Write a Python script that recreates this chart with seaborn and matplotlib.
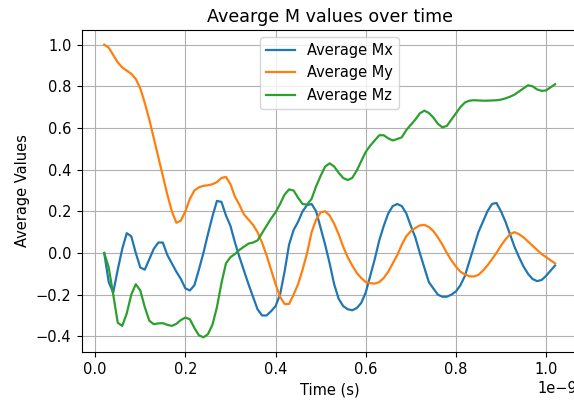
import matplotlib
matplotlib.use("Agg")
import matplotlib.pyplot as plt
import seaborn as sns
import pandas as pd
import numpy as np

# time in units of 1e-9 s
time_ns = [0.02, 0.03, 0.04, 0.05, 0.06, 0.07, 0.08, 0.09, 0.10, 0.11,
           0.12, 0.13, 0.14, 0.15, 0.16, 0.17, 0.18, 0.19, 0.20, 0.21,
           0.22, 0.23, 0.24, 0.25, 0.26, 0.27, 0.28, 0.29, 0.30, 0.31,
           0.32, 0.33, 0.34, 0.35, 0.36, 0.37, 0.38, 0.39, 0.40, 0.41,
           0.42, 0.43, 0.44, 0.45, 0.46, 0.47, 0.48, 0.49, 0.50, 0.51,
           0.52, 0.53, 0.54, 0.55, 0.56, 0.57, 0.58, 0.59, 0.60, 0.61,
           0.62, 0.63, 0.64, 0.65, 0.66, 0.67, 0.68, 0.69, 0.70, 0.71,
           0.72, 0.73, 0.74, 0.75, 0.76, 0.77, 0.78, 0.79, 0.80, 0.81,
           0.82, 0.83, 0.84, 0.85, 0.86, 0.87, 0.88, 0.89, 0.90, 0.91,
           0.92, 0.93, 0.94, 0.95, 0.96, 0.97, 0.98, 0.99, 1.00, 1.01,
           1.02]

mx = [0.0, -0.14, -0.19, -0.08, 0.02, 0.095, 0.08, 0.0, -0.07, -0.08,
      -0.03, 0.02, 0.05, 0.05, -0.01, -0.05, -0.09, -0.125, -0.17, -0.18,
      -0.155, -0.08, 0.0, 0.09, 0.175, 0.25, 0.245, 0.18, 0.13, 0.05,
      -0.02, -0.085, -0.15, -0.21, -0.27, -0.30, -0.30, -0.28, -0.255, -0.2,
      -0.09, 0.04, 0.11, 0.15, 0.2, 0.23, 0.235, 0.2, 0.12, 0.04,
      -0.05, -0.15, -0.22, -0.255, -0.27, -0.275, -0.265, -0.24, -0.19, -0.11,
      -0.03, 0.06, 0.13, 0.19, 0.225, 0.235, 0.225, 0.19, 0.13, 0.075,
      0.0, -0.07, -0.14, -0.17, -0.2, -0.21, -0.21, -0.2, -0.185, -0.155,
      -0.11, -0.04, 0.03, 0.1, 0.15, 0.2, 0.235, 0.24, 0.2, 0.15,
      0.09, 0.03, -0.02, -0.065, -0.1, -0.125, -0.135, -0.13, -0.11, -0.085,
      -0.06]

my = [1.0, 0.985, 0.95, 0.915, 0.89, 0.875, 0.86, 0.835, 0.79, 0.72,
      0.64, 0.55, 0.46, 0.37, 0.28, 0.2, 0.145, 0.155, 0.2, 0.26,
      0.3, 0.315, 0.322, 0.325, 0.33, 0.34, 0.36, 0.365, 0.33, 0.27,
      0.23, 0.185, 0.16, 0.135, 0.1, 0.05, -0.01, -0.08, -0.15, -0.21,
      -0.245, -0.245, -0.2, -0.15, -0.08, 0.0, 0.1, 0.16, 0.195, 0.2,
      0.18, 0.14, 0.09, 0.03, -0.02, -0.06, -0.095, -0.12, -0.14, -0.145,
      -0.147, -0.14, -0.12, -0.09, -0.05, -0.01, 0.04, 0.08, 0.105, 0.12,
      0.132, 0.135, 0.125, 0.105, 0.075, 0.04, 0.0, -0.035, -0.065, -0.09,
      -0.103, -0.112, -0.113, -0.105, -0.085, -0.06, -0.03, 0.0, 0.035, 0.065,
      0.09, 0.1, 0.09, 0.075, 0.055, 0.035, 0.015, -0.005, -0.02, -0.035,
      -0.05]

mz = [0.0, -0.07, -0.2, -0.335, -0.35, -0.29, -0.2, -0.15, -0.18, -0.26,
      -0.325, -0.342, -0.338, -0.337, -0.345, -0.35, -0.34, -0.322, -0.31, -0.318,
      -0.36, -0.395, -0.405, -0.39, -0.345, -0.26, -0.145, -0.05, -0.02, -0.005,
      0.015, 0.03, 0.045, 0.05, 0.06, 0.095, 0.13, 0.165, 0.195, 0.235,
      0.28, 0.305, 0.3, 0.265, 0.235, 0.232, 0.26, 0.32, 0.37, 0.415,
      0.43, 0.415, 0.385, 0.36, 0.35, 0.36, 0.395, 0.44, 0.485, 0.515,
      0.54, 0.565, 0.565, 0.55, 0.54, 0.547, 0.555, 0.59, 0.615, 0.64,
      0.67, 0.683, 0.672, 0.65, 0.62, 0.603, 0.61, 0.64, 0.67, 0.7,
      0.722, 0.731, 0.733, 0.732, 0.731, 0.731, 0.732, 0.733, 0.736, 0.742,
      0.75, 0.76, 0.775, 0.79, 0.805, 0.8, 0.785, 0.778, 0.78, 0.795,
      0.81]

series_names = ["Average Mx", "Average My", "Average Mz"]

t = np.array(time_ns) * 1e-9
df = pd.concat([
    pd.DataFrame({"time": t, "value": vals, "series": name})
    for name, vals in zip(series_names, [mx, my, mz])
], ignore_index=True)

s = 1.05
plt.rcParams.update({
    "font.size": 10 * s,
    "xtick.major.size": 3.5 * s,
    "ytick.major.size": 3.5 * s,
    "xtick.major.pad": 3.5 * s,
    "ytick.major.pad": 3.5 * s,
})

fig = plt.figure(figsize=(5.74, 4.03), dpi=100)
ax = fig.add_axes([0.1423, 0.1266, 0.864, 0.799])

sns.lineplot(data=df, x="time", y="value", hue="series",
             palette=["#1f77b4", "#ff7f0e", "#2ca02c"],
             estimator=None, linewidth=1.6, ax=ax)

for sp in ax.spines.values():
    sp.set_visible(True)
    sp.set_color("black")
    sp.set_linewidth(0.8)

ax.grid(True, color="#b0b0b0", linewidth=0.8)
ax.set_title("Avearge M values over time", fontsize=12 * s)
ax.set_xlabel("Time (s)", fontsize=10 * s)
ax.set_ylabel("Average Values", fontsize=10 * s)
ax.tick_params(labelsize=10 * s)
sns.move_legend(ax, "upper center", title=None, fontsize=10 * s)

fig.savefig("out.png", dpi=100)
